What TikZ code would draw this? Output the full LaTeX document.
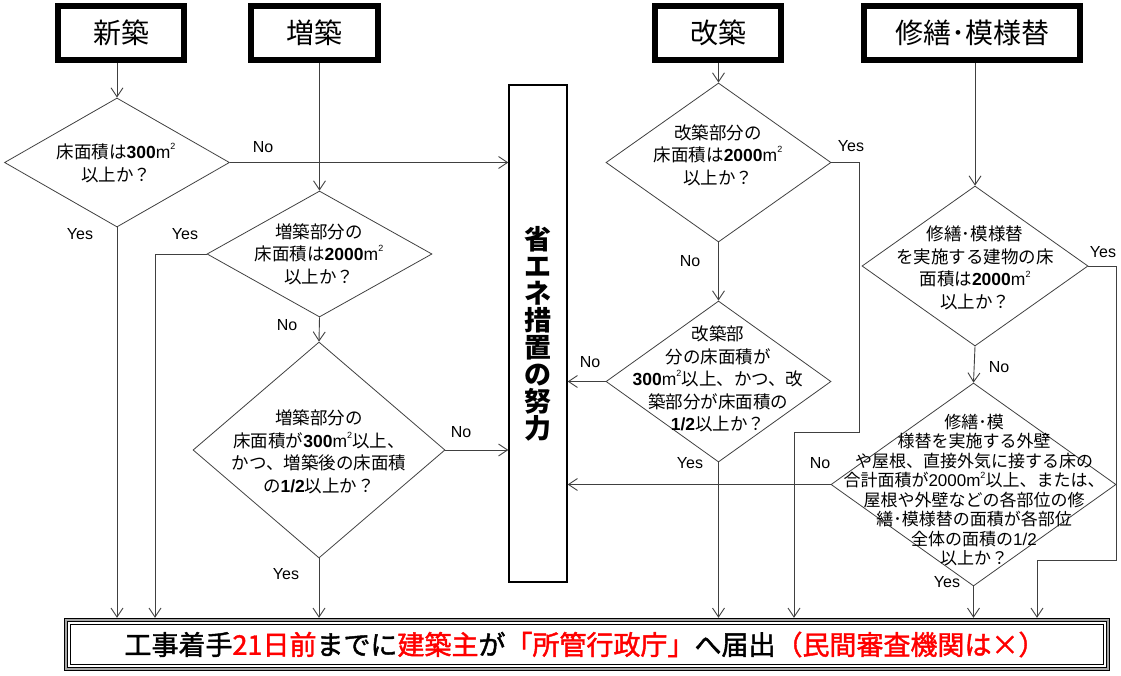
\documentclass[tikz,border=0pt]{standalone}
\usepackage{fontspec}
\setmainfont{Noto Sans CJK JP}
\newfontfamily\cjkfb[FakeBold=1.6]{Noto Sans CJK JP}
\newfontfamily\lat{Liberation Sans}
\usetikzlibrary{arrows.meta,shapes.geometric}
\newcommand\nm[1]{{\lat\bfseries #1}}
\newcommand\sqm{{\lat m}\raisebox{0.5em}{\lat\fontsize{9}{9}\selectfont 2}}
\tikzset{
  titlebox/.style={rectangle, inner sep=0pt, draw, line width=4pt, font=\fontsize{28}{28}\selectfont, minimum height=56pt},
  dia/.style={diamond, draw=black!75, line width=0.8pt, inner sep=0pt},
  dtext/.style={align=center, inner sep=0pt, font=\fontsize{17.5}{22.5}\selectfont},
  arr/.style={draw=black!75, line width=0.9pt, -{Straight Barb[length=9pt,width=12pt]}},
  ln/.style={draw=black!75, line width=0.9pt},
  lab/.style={inner sep=0pt, font=\lat\fontsize{16}{16}\selectfont}
}
\begin{document}
\begin{tikzpicture}[x=1pt,y=-1pt]
\useasboundingbox (0,0) rectangle (1121,675);
% title boxes
\node[titlebox, minimum width=128pt] (b1) at (121,33) {新築};
\node[titlebox, minimum width=129pt] (b2) at (314.5,33) {増築};
\node[titlebox, minimum width=128pt] (b3) at (718,33) {改築};
\node[titlebox, minimum width=218pt] (b4) at (972,33) {修繕･模様替};
\foreach \b in {b1,b2,b3,b4}
  \draw[line width=2pt] ([shift={(5,5)}]\b.north west) rectangle ([shift={(-5,-5)}]\b.south east);
% vertical box
\node[draw, line width=1.3pt, minimum width=58pt, minimum height=497pt, inner sep=0pt, align=center,
      font=\bfseries\fontsize{27}{27}\selectfont] (v) at (538,333.5) {省\\エ\\ネ\\措\\置\\の\\努\\力};
% final box
\node[inner sep=0pt, minimum width=1046pt, minimum height=53pt] (f) at (587,644.5) {};
\foreach \i/\c in {0/black, 1/gray!70, 3/black, 4.5/white, 6/black, 7.5/white}
  \fill[\c] ([shift={(\i,\i)}]f.north west) rectangle ([shift={(-\i,-\i)}]f.south east);
\node[inner sep=0pt, font=\cjkfb\fontsize{27}{27}\selectfont] (ft) at (585,644.5)
  {工事着手\textcolor{red}{21日前}までに\textcolor{red}{建築主}が\textcolor{red}{「所管行政庁」}へ届出\textcolor{red}{（民間審査機関は×）}};
% diamonds
\node[dia, minimum width=225pt, minimum height=129pt] (d1) at (117,162.5) {};
\node[dtext] (t1) at (116,163) {床面積は\nm{300}\sqm\\以上か？};
\node[dia, minimum width=225pt, minimum height=126pt] (d2) at (319.5,254) {};
\node[dtext] (t2) at (319,254) {増築部分の\\床面積は\nm{2000}\sqm\\以上か？};
\node[dia, minimum width=252pt, minimum height=216pt] (d3) at (319,450) {};
\node[dtext] (t3) at (319,452) {増築部分の\\床面積が\nm{300}\sqm 以上、\\かつ、増築後の床面積\\の\nm{1/2}以上か？};
\node[dia, minimum width=225pt, minimum height=159pt] (d4) at (718.5,162.5) {};
\node[dtext] (t4) at (718,155) {改築部分の\\床面積は\nm{2000}\sqm\\以上か？};
\node[dia, minimum width=225pt, minimum height=161pt] (d5) at (718.5,381.5) {};
\node[dtext] (t5) at (718,379) {改築部\\分の床面積が\\\nm{300}\sqm 以上、かつ、改\\築部分が床面積の\\\nm{1/2}以上か？};
\node[dia, minimum width=226pt, minimum height=160pt] (d6) at (975,266) {};
\node[dtext] (t6) at (975,268) {修繕･模様替\\を実施する建物の床\\面積は\nm{2000}\sqm\\以上か？};
\node[dia, minimum width=285pt, minimum height=203pt] (d7) at (973.5,484.5) {};
\node[dtext, font=\fontsize{17}{19.5}\selectfont] (t7) at (974,490) {修繕･模\\様替を実施する外壁\\や屋根、直接外気に接する床の\\合計面積が{\lat 2000}\sqm 以上、または、\\屋根や外壁などの各部位の修\\繕･模様替の面積が各部位\\全体の面積の{\lat 1/2}\\以上か？};
% coordinates for bends
\coordinate (c2) at (155,254);
\coordinate (c4a) at (859,162.5);
\coordinate (c4b) at (859,432);
\coordinate (c4c) at (794,432);
\coordinate (c6a) at (1116,266);
\coordinate (c6b) at (1116,560);
\coordinate (c6c) at (1037,560);
% connectors
\draw[arr] (b1.south -| d1.north) -- (d1.north);
\draw[arr] (b2.south -| d2.north) -- (d2.north);
\draw[arr] (b3.south -| d4.north) -- (d4.north);
\draw[arr] (b4.south -| d6.north) -- (d6.north);
\draw[arr] (d1.east) -- (d1.east -| v.west);
\draw[arr] (d1.south) -- (d1.south |- f.north);
\draw[arr] (d2.west) -- (c2) -- (c2 |- f.north);
\draw[arr] (d2.south) -- (d3.north);
\draw[arr] (d3.east) -- (d3.east -| v.west);
\draw[arr] (d3.south) -- (d3.south |- f.north);
\draw[arr] (d4.east) -- (c4a) -- (c4b) -- (c4c) -- (c4c |- f.north);
\draw[arr] (d4.south) -- (d5.north);
\draw[arr] (d5.west) -- (d5.west -| v.east);
\draw[arr] (d5.south) -- (d5.south |- f.north);
\draw[arr] (d6.east) -- (c6a) -- (c6b) -- (c6c) -- (c6c |- f.north);
\draw[arr] (d6.south) -- (d7.north);
\draw[arr] (d7.west) -- (d7.west -| v.east);
\draw[arr] (d7.south) -- (d7.south |- f.north);
% labels
\node[lab] (l1) at (263,147) {No};
\node[lab] (l2) at (80,234) {Yes};
\node[lab] (l3) at (185,234) {Yes};
\node[lab] (l4) at (287,325) {No};
\node[lab] (l5) at (461,432) {No};
\node[lab] (l6) at (286,574) {Yes};
\node[lab] (l7) at (851,146) {Yes};
\node[lab] (l8) at (690,261) {No};
\node[lab] (l9) at (590,362) {No};
\node[lab] (l10) at (690,463) {Yes};
\node[lab] (l11) at (1103,252) {Yes};
\node[lab] (l12) at (999,367) {No};
\node[lab] (l13) at (820,463) {No};
\node[lab] (l14) at (947,582) {Yes};
\end{tikzpicture}
\end{document}
